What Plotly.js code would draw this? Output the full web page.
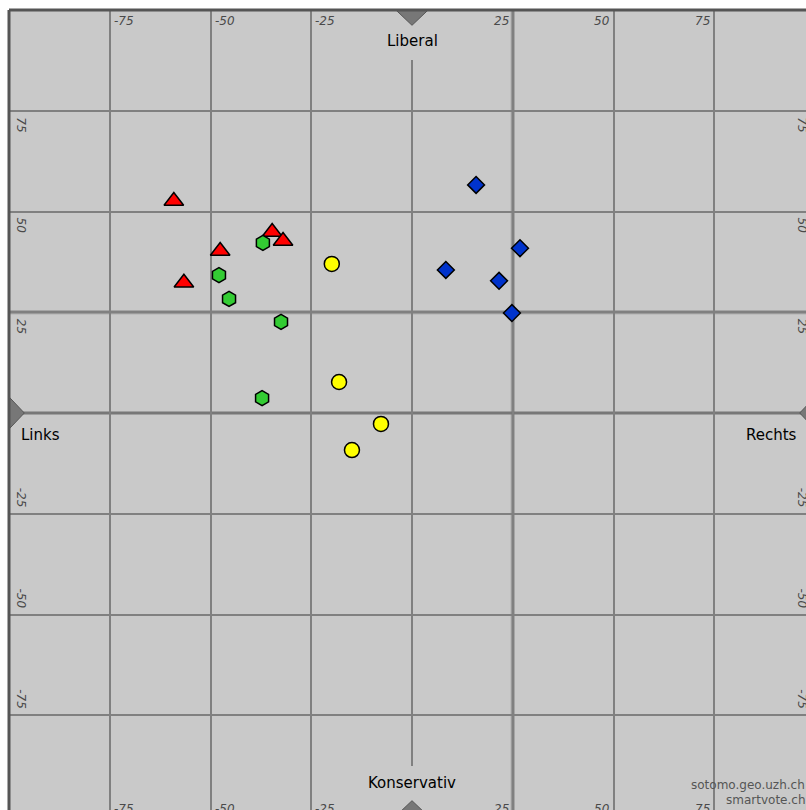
<!DOCTYPE html>
<html>
<head>
<meta charset="utf-8">
<script src="https://cdn.plot.ly/plotly-3.0.1.min.js"></script>
<style>
html,body{margin:0;padding:0;background:#fff;overflow:hidden;width:806px;height:810px;}
#chart{position:absolute;left:0;top:0;}
</style>
</head>
<body>
<div id="chart"></div>
<script>
// Party groups
const redX = [-59.1, -34.7, -32.0, -47.6, -56.6];
const redY = [52.6, 44.9, 42.7, 40.2, 32.3];
const greenX = [-37.0, -47.9, -45.4, -32.5, -37.2];
const greenY = [42.2, 34.2, 28.3, 22.6, 3.7];
const yellowX = [-19.9, -18.1, -7.7, -14.9];
const yellowY = [37.0, 7.7, -2.7, -9.2];
const blueX = [15.9, 26.8, 8.4, 21.6, 24.8];
const blueY = [56.6, 40.9, 35.5, 32.8, 24.8];

const tickVals = [-75, -50, -25, 25, 50, 75];
const tickText = ['-75', '-50', '-25', '25', '50', '75'];
const axisLabels = {top: 'Liberal', bottom: 'Konservativ', left: 'Links', right: 'Rechts'};
const credits = ['sotomo.geo.uzh.ch', 'smartvote.ch'];

const outline = {color: '#000', width: 1.5};
const traces = [
  {x: redX, y: redY, type: 'scatter', mode: 'markers',
   marker: {symbol: 'triangle-up', size: 17, color: '#ff0000', line: outline}},
  {x: greenX, y: greenY, type: 'scatter', mode: 'markers',
   marker: {symbol: 'hexagon', size: 15, color: '#33cc33', line: outline}},
  {x: yellowX, y: yellowY, type: 'scatter', mode: 'markers',
   marker: {symbol: 'circle', size: 15, color: '#ffff00', line: outline}},
  {x: blueX, y: blueY, type: 'scatter', mode: 'markers',
   marker: {symbol: 'diamond', size: 13, color: '#0033cc', line: outline}}
];

const tickFont = {family: 'DejaVu Sans', size: 12, color: '#4a4a4a'};
const ann = [];
tickVals.forEach((v, i) => {
  const pos = v > 0;
  // top labels
  ann.push({x: v, y: 100, xref: 'x', yref: 'y', text: '<i>' + tickText[i] + '</i>', showarrow: false,
    xanchor: pos ? 'right' : 'left', yanchor: 'top', xshift: pos ? -2 : 2, yshift: -2, font: tickFont});
  // bottom labels
  ann.push({x: v, y: -100, xref: 'x', yref: 'y', text: '<i>' + tickText[i] + '</i>', showarrow: false,
    xanchor: pos ? 'right' : 'left', yanchor: 'bottom', xshift: pos ? -2 : 2, yshift: -2, font: tickFont});
  // left labels (rotated)
  ann.push({x: -100, y: v, xref: 'x', yref: 'y', text: '<i>' + tickText[i] + '</i>', showarrow: false,
    textangle: 90, xanchor: 'left', yanchor: pos ? 'top' : 'bottom', xshift: 3, yshift: pos ? -4 : 4, font: tickFont});
  // right labels (rotated)
  ann.push({x: 100, y: v, xref: 'x', yref: 'y', text: '<i>' + tickText[i] + '</i>', showarrow: false,
    textangle: 90, xanchor: 'right', yanchor: pos ? 'top' : 'bottom', xshift: -4, yshift: pos ? -4 : 4, font: tickFont});
});
const labFont = {family: 'DejaVu Sans', size: 15, color: '#000'};
ann.push({x: 0, y: 100, text: axisLabels.top, showarrow: false, yanchor: 'top', yshift: -20, font: labFont});
ann.push({x: 0, y: -100, text: axisLabels.bottom, showarrow: false, yanchor: 'bottom', yshift: 22, font: labFont});
ann.push({x: -100, y: 0, text: axisLabels.left, showarrow: false, xanchor: 'left', yanchor: 'top', xshift: 10, yshift: -11, font: labFont});
ann.push({x: 100, y: 0, text: axisLabels.right, showarrow: false, xanchor: 'right', yanchor: 'top', xshift: -16, yshift: -11, font: labFont});
ann.push({x: 97.9, y: -100, text: credits[0], showarrow: false, xanchor: 'right', yanchor: 'bottom', yshift: 22, font: {family: 'DejaVu Sans', size: 12, color: '#555'}});
ann.push({x: 97.9, y: -100, text: credits[1], showarrow: false, xanchor: 'right', yanchor: 'bottom', yshift: 7, font: {family: 'DejaVu Sans', size: 12, color: '#555'}});

const shapes = [
  // emphasised lines
  {type: 'line', x0: -100, x1: 100, y0: 25, y1: 25, line: {color: '#9a9a9a', width: 4}, layer: 'below'},
  {type: 'line', x0: 25, x1: 25, y0: -100, y1: 100, line: {color: '#9a9a9a', width: 4}, layer: 'below'},
  {type: 'line', x0: -100, x1: 100, y0: 0, y1: 0, line: {color: '#777', width: 3}, layer: 'below'},
  {type: 'line', x0: 0, x1: 0, y0: -87.6, y1: 87.6, line: {color: '#808080', width: 2}, layer: 'below'},
  // edge pointers
  {type: 'path', path: 'M -4,100 L 4,100 L 0,96.2 Z', fillcolor: '#777', line: {color: '#555', width: 1}},
  {type: 'path', path: 'M -4,-100 L 4,-100 L 0,-96.2 Z', fillcolor: '#777', line: {color: '#555', width: 1}},
  {type: 'path', path: 'M -100,4 L -100,-4 L -96.2,0 Z', fillcolor: '#777', line: {color: '#555', width: 1}},
  {type: 'path', path: 'M 100,4 L 100,-4 L 96.2,0 Z', fillcolor: '#777', line: {color: '#555', width: 1}},
  // frame
  {type: 'line', xref: 'paper', yref: 'paper', x0: 0, x1: 1, y0: 1, y1: 1, line: {color: '#555', width: 3}},
  {type: 'line', xref: 'paper', yref: 'paper', x0: 0, x1: 0, y0: 0, y1: 1, line: {color: '#555', width: 3}}
];

const layout = {
  width: 815, height: 816,
  margin: {l: 9, r: 0, t: 10, b: 0},
  paper_bgcolor: '#ffffff',
  plot_bgcolor: '#c9c9c9',
  showlegend: false,
  xaxis: {range: [-100, 100], tickvals: tickVals, showticklabels: false, gridcolor: '#808080', gridwidth: 2,
    zeroline: false, showline: false, fixedrange: true},
  yaxis: {range: [-100, 100], tickvals: [-75, -50, -25, 25, 50, 75], showticklabels: false, gridcolor: '#808080', gridwidth: 2,
    zeroline: false, showline: false, fixedrange: true},
  annotations: ann,
  shapes: shapes
};

Plotly.newPlot('chart', traces, layout, {displayModeBar: false, staticPlot: true});
</script>
</body>
</html>
